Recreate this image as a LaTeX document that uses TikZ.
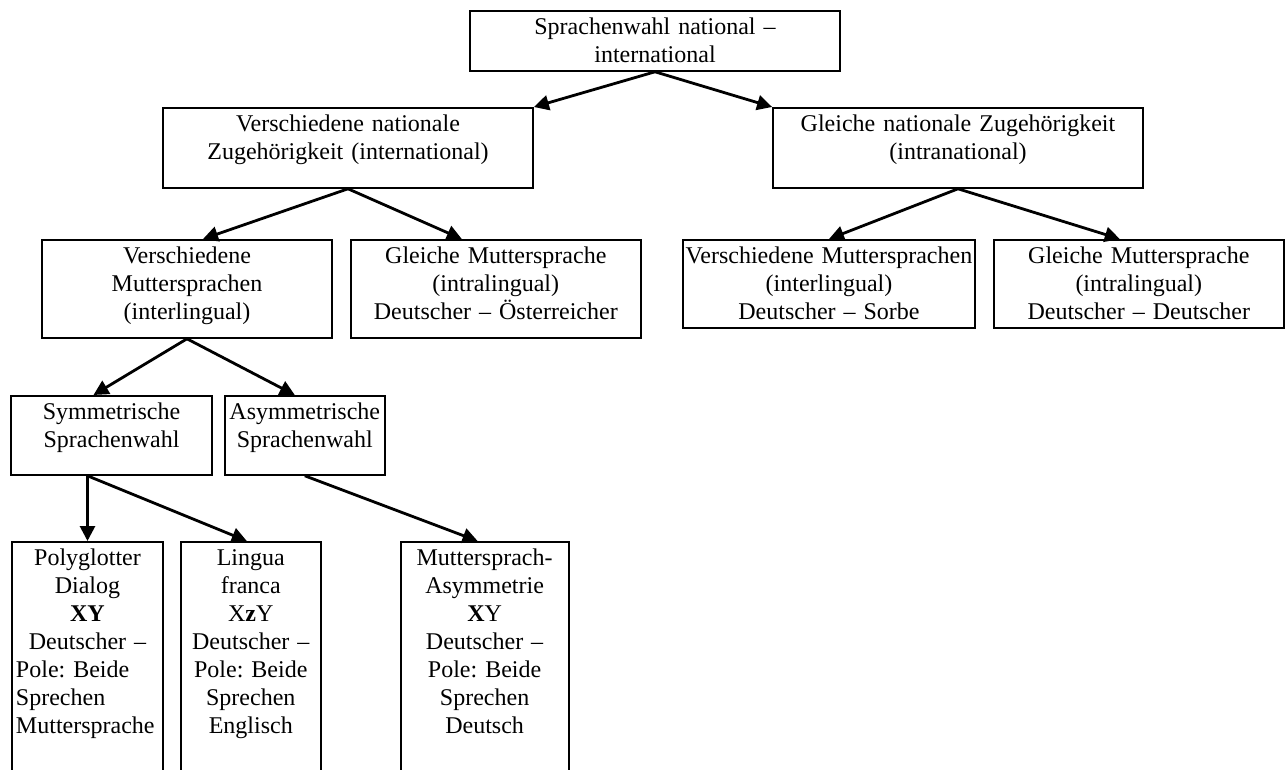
\documentclass[tikz,border=0pt]{standalone}
\usepackage{fontspec}
\setmainfont{Liberation Serif}
\frenchspacing
\usetikzlibrary{arrows.meta,positioning}

\begin{document}
\begin{tikzpicture}[x=0.5pt, y=-0.5pt, >={Triangle[length=7.5pt,width=7.5pt]},
	box/.style={draw, line width=0.9pt, anchor=north, align=center, font=\fontsize{12}{14}\selectfont, inner xsep=2pt, inner ysep=2pt, text height=10pt},
	level1/.style={box, text width=181pt, text depth=16pt},
	level2/.style={box, text width=181pt, text depth=26pt},
	level3/.style={box, text width=141pt, text depth=35pt},
	level3b/.style={box, inner xsep=0.5pt, text width=145pt, text depth=30pt},
	level4/.style={box, text depth=25.5pt},
	level5/.style={box, text depth=126pt}]
	\useasboundingbox (0,0) rectangle (1285,770);
	\clip (0,0) rectangle (1285,770);

	\node [level1] (1) at (655,10) {Sprachenwahl national --\\international};
	\node [level2] (2) at (348,107) {Verschiedene nationale\\Zugehörigkeit (international)};
	\node [level2] (3) at (958,107) {Gleiche nationale Zugehörigkeit\\(intranational)};
	\node [level3] (4) at (187,239) {Verschiedene\\Muttersprachen\\(interlingual)};
	\node [level3] (5) [right=8.5pt of 4] {Gleiche Muttersprache\\(intralingual)\\Deutscher -- Österreicher};
	\node [level3b] (6) at (829,239) {Verschiedene Muttersprachen\\(interlingual)\\Deutscher -- Sorbe};
	\node [level3b, text width=144pt] (7) [right=8.5pt of 6] {Gleiche Muttersprache\\(intralingual)\\Deutscher -- Deutscher};
	\node [level4, text width=96.5pt] (8) at (111.5,395) {Symmetrische\\Sprachenwahl};
	\node [level4, text width=76pt] (9) [right=5.5pt of 8] {Asymmetrische\\Sprachenwahl};
	\node [level5, text width=71.5pt] (10) at (87.5,541) {Polyglotter\\Dialog\\\textbf{XY}\\Deutscher --\\\makebox[\linewidth][l]{Pole: Beide}\\\makebox[\linewidth][l]{Sprechen}\\\makebox[\linewidth][l]{Muttersprache}};
	\node [level5, text width=66pt] (11) [right=8pt of 10] {Lingua\\franca\\X\textbf{z}Y\\Deutscher --\\Pole: Beide\\Sprechen\\Englisch};
	\node [level5, text width=80pt] (12) [right=39pt of 11] {Muttersprach-\\Asymmetrie\\\textbf{X}Y\\Deutscher --\\Pole: Beide\\Sprechen\\Deutsch};

	\path[->, line width=1.4pt]
		(1.south) edge (2.north east)
		(1.south) edge (3.north west)
		(2.south) edge ([xshift=8pt]4.north)
		(2.south) edge ([xshift=-17pt]5.north)
		(3.south) edge (6.north)
		(3.south) edge ([xshift=-9.5pt]7.north)
		(4.south) edge ([xshift=-9pt]8.north)
		(4.south) edge ([xshift=-5pt]9.north)
		(10.north |- 8.south) edge (10.north)
		(10.north |- 8.south) edge ([xshift=-2pt]11.north)
		(9.south) edge ([xshift=-3.5pt]12.north)
		;

\end{tikzpicture}
\end{document}
